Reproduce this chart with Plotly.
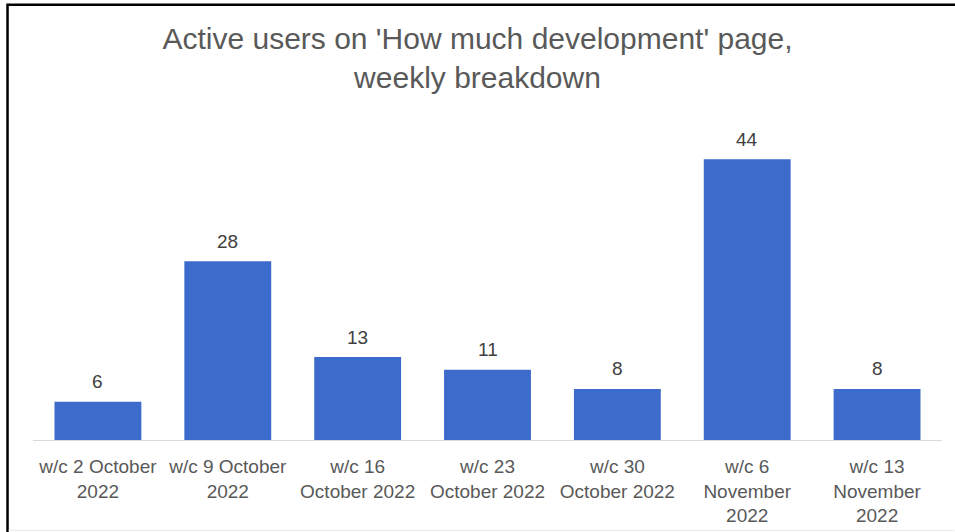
import plotly.graph_objects as go

categories = [
    "w/c 2 October<br>2022",
    "w/c 9 October<br>2022",
    "w/c 16<br>October 2022",
    "w/c 23<br>October 2022",
    "w/c 30<br>October 2022",
    "w/c 6<br>November<br>2022",
    "w/c 13<br>November<br>2022",
]
values = [6, 28, 13, 11, 8, 44, 8]
title_text = "Active users on 'How much development' page,<br>weekly breakdown"

BAR = "#3D6BCB"
W, H = 955, 532
L, R, T, B = 32.5, 12.5, 120.5, 92

fig = go.Figure()
fig.add_trace(go.Bar(x=categories, y=values, marker=dict(color=BAR, line=dict(width=0)),
                     hoverinfo="skip"))

for c, v in zip(categories, values):
    fig.add_annotation(x=c, y=v, text=str(v), showarrow=False, yanchor="middle",
                       yshift=20, font=dict(size=19, color="#404040",
                                             family="Liberation Sans, Arial, sans-serif"))

pw = W - L - R
ph = H - T - B
def px_x(p):
    return (p - L) / pw
def px_y(p):
    return (H - B - p) / ph

# outer border (left and top visible)
fig.add_shape(type="rect", xref="paper", yref="paper",
              x0=px_x(7), x1=px_x(970), y0=px_y(560), y1=px_y(4),
              line=dict(color="#000000", width=2.5), fillcolor="rgba(0,0,0,0)", layer="above")
# faint bottom line
fig.add_shape(type="line", xref="paper", yref="paper",
              x0=px_x(8), x1=px_x(955), y0=px_y(530.5), y1=px_y(530.5),
              line=dict(color="#E8E8E8", width=1))

fig.update_layout(
    width=W, height=H, autosize=False,
    margin=dict(l=L, r=R, t=T, b=B, pad=0, autoexpand=False),
    paper_bgcolor="white", plot_bgcolor="white",
    bargap=0.331,
    showlegend=False,
    title=dict(text=title_text, x=0.5, xanchor="center", y=1 - 49 / H, yanchor="middle",
               font=dict(size=30, color="#595959", family="Liberation Sans, Arial, sans-serif")),
    font=dict(family="Liberation Sans, Arial, sans-serif"),
    xaxis=dict(showline=True, linecolor="#D9D9D9", linewidth=1, showgrid=False,
               ticks="", tickfont=dict(size=19, color="#595959"), tickangle=0,
               ticklabelstandoff=9, automargin=False, fixedrange=True),
    yaxis=dict(range=[0, 50], visible=False, showgrid=False, zeroline=False,
               automargin=False, fixedrange=True),
)

fig.write_html("out.html", config={"displayModeBar": False},
               post_script="document.body.style.margin='0';document.body.style.overflow='hidden';")
